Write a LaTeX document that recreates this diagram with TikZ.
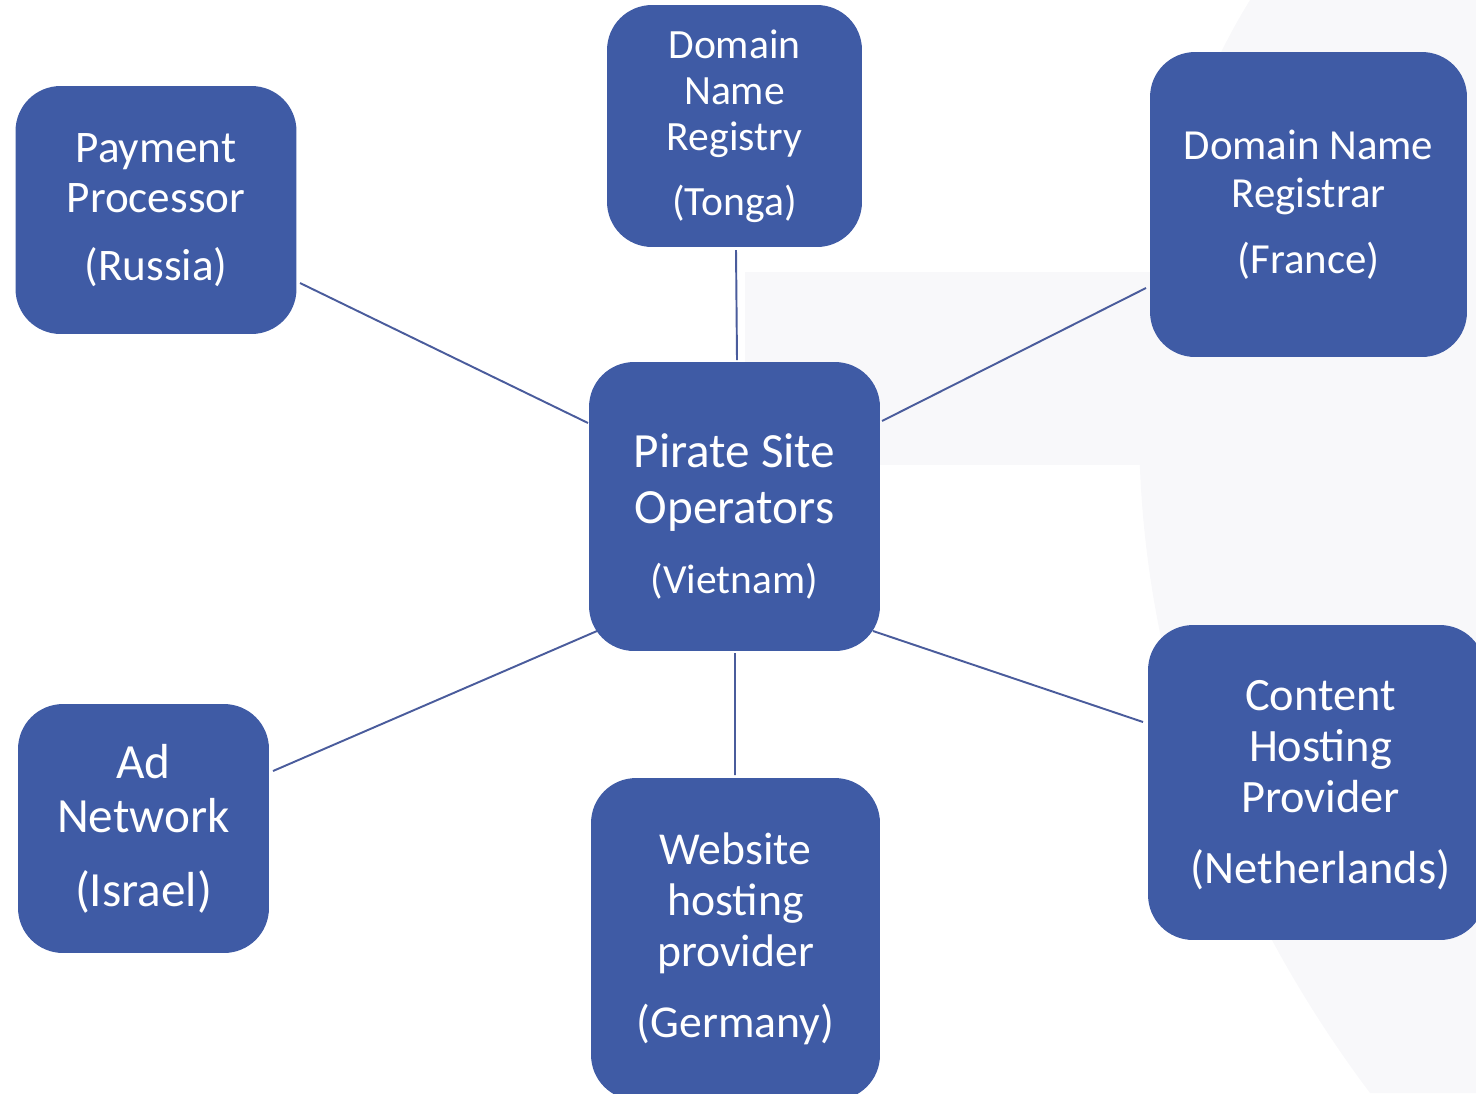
\documentclass[tikz,border=0pt]{standalone}
\usepackage{fontspec}
\setmainfont{Carlito}
\definecolor{boxblue}{HTML}{3F5BA5}
\definecolor{linecol}{HTML}{4A5C9C}
\definecolor{faint}{HTML}{F8F8FA}
\begin{document}
\begin{tikzpicture}[x=0.02cm,y=-0.02cm,
  box/.style={draw=none, fill=boxblue, rounded corners=0.9cm, text=white, align=center, inner sep=0pt},
  boxtext/.style={text=white, align=center, inner sep=0pt},
  conn/.style={draw=linecol, line width=1.1pt}]
\useasboundingbox (0,0) rectangle (1476,1093);
% faint background shapes
\fill[faint] (745,272) rectangle (1350,465);
\fill[faint] (1250,0) .. controls (1095,250) and (1075,700) .. (1370,1093) -- (1476,1093) -- (1476,0) -- cycle;
% nodes
\node[box, minimum width=5.62cm, minimum height=4.96cm, font=\fontsize{25.7}{28.5}\selectfont] (pay) at (156,210) {Payment\\Processor\\[10pt](Russia)};
\node[box, minimum width=5.10cm, minimum height=4.84cm, font=\fontsize{23.7}{26.2}\selectfont] (reg) at (734.5,126) {Domain\\Name\\Registry\\[10.8pt](Tonga)};
\node[box, minimum width=6.34cm, minimum height=6.10cm, font=\fontsize{24.4}{27.3}\selectfont] (fr) at (1308.5,204.5) {Domain Name\\Registrar\\[10pt](France)};
\node[box, minimum width=5.82cm, minimum height=5.78cm] (c) at (734.5,506.5) {};
\node[boxtext, font=\fontsize{28}{32}\selectfont] (ct) at ([yshift=-0.2cm]c.center) {Pirate Site\\Operators\\[8pt]{\fontsize{23.6}{32}\selectfont(Vietnam)}};
\node[box, minimum width=5.02cm, minimum height=4.98cm, font=\fontsize{28}{30.7}\selectfont] (ad) at (143.5,828.5) {Ad\\Network\\[11.4pt](Israel)};
\node[box, minimum width=5.78cm, minimum height=6.44cm, font=\fontsize{26}{29}\selectfont] (web) at (735.5,939) {Website\\hosting\\provider\\[11.4pt](Germany)};
\node[box, minimum width=6.74cm, minimum height=6.30cm] (cont) at (1316.5,782.5) {};
\node[boxtext, font=\fontsize{26.4}{29}\selectfont] (contt) at ([xshift=0.08cm,yshift=-0.05cm]cont.center) {Content\\Hosting\\Provider\\[11.4pt](Netherlands)};
% connectors
\draw[conn] ([shift={(144,73)}]pay.center) -- ([shift={(-146.5,-83.5)}]c.center);
\draw[conn] ([shift={(1.5,124)}]reg.center) -- ([shift={(2.5,-146.5)}]c.center);
\draw[conn] ([shift={(-162.5,83.5)}]fr.center) -- ([shift={(147.5,-85.5)}]c.center);
\draw[conn] ([shift={(129.5,-57.5)}]ad.center) -- ([shift={(-137.5,124.5)}]c.center);
\draw[conn] ([shift={(-0.5,-164)}]web.center) -- ([shift={(0.5,146.5)}]c.center);
\draw[conn] ([shift={(-173.5,-60.5)}]cont.center) -- ([shift={(138.5,124.5)}]c.center);
\end{tikzpicture}
\end{document}
